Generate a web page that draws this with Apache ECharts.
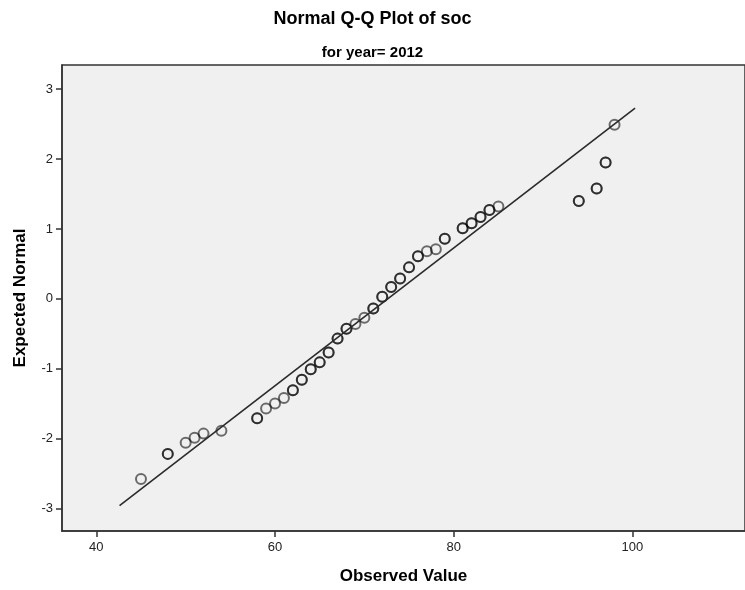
<!DOCTYPE html>
<html>
<head>
<meta charset="utf-8">
<script src="https://cdn.jsdelivr.net/npm/echarts@6/dist/echarts.min.js"></script>
<style>
html,body{margin:0;padding:0;background:#fff;}
#chart{width:745px;height:590px;}
</style>
</head>
<body>
<div id="chart"></div>
<script>
// Observed values (unique) and their expected normal quantiles
const observed = [45,48,50,51,52,54,58,59,60,61,62,63,64,65,66,67,68,69,70,71,72,73,74,75,76,77,78,79,81,82,83,84,85,94,96,97,98];
const expected = [-2.58,-2.22,-2.06,-1.99,-1.93,-1.89,-1.71,-1.57,-1.50,-1.42,-1.31,-1.16,-1.01,-0.91,-0.77,-0.57,-0.43,-0.36,-0.27,-0.14,0.03,0.17,0.29,0.45,0.61,0.68,0.71,0.86,1.01,1.08,1.17,1.27,1.32,1.40,1.58,1.95,2.49];
// number of cases sharing each observed value (ties drawn on top of each other)
const counts = [1,2,1,1,1,1,2,1,1,1,2,2,2,2,2,2,2,1,1,2,2,2,2,2,2,1,1,2,2,2,2,2,1,2,2,2,1];
// reference line end points
const lineObserved = [42.6, 100.3];
const lineExpected = [-2.96, 2.73];
const xTicks = [40, 60, 80, 100];
const yTicks = [-3, -2, -1, 0, 1, 2, 3];

const pts = [];
observed.forEach((v, i) => {
  for (let k = 0; k < counts[i]; k++) pts.push([v, expected[i]]);
});
const lineData = lineObserved.map((v, i) => [v, lineExpected[i]]);

const FONT = "'Liberation Sans', Arial, sans-serif";
const chart = echarts.init(document.getElementById('chart'), null, {renderer: 'canvas'});
chart.setOption({
  backgroundColor: '#ffffff',
  animation: false,
  title: [
    {text: 'Normal Q-Q Plot of soc', left: 'center', top: 5,
     textStyle: {fontFamily: FONT, fontSize: 18, fontWeight: 'bold', color: '#000'}},
    {text: 'for year= 2012', left: 'center', top: 40,
     textStyle: {fontFamily: FONT, fontSize: 15, fontWeight: 'bold', color: '#000'}}
  ],
  grid: {left: 62, top: 65, right: -3, bottom: 58, show: true,
         backgroundColor: '#f0f0f0', borderColor: '#333', borderWidth: 1.5},
  xAxis: {
    type: 'value', min: 36.16, max: 112.6,
    name: 'Observed Value', nameLocation: 'middle', nameGap: 37,
    nameTextStyle: {fontFamily: FONT, fontSize: 17, fontWeight: 'bold', color: '#000'},
    axisLine: {show: true, onZero: false, lineStyle: {color: '#333', width: 1.5}},
    axisTick: {show: true, customValues: xTicks, length: 6, lineStyle: {color: '#333', width: 1.5}},
    axisLabel: {customValues: xTicks, fontFamily: FONT, fontSize: 13, color: '#222', margin: 10},
    splitLine: {show: false}
  },
  yAxis: {
    type: 'value', min: -3.324, max: 3.347,
    name: 'Expected Normal', nameLocation: 'middle', nameGap: 33, nameRotate: 90,
    nameTextStyle: {fontFamily: FONT, fontSize: 17, fontWeight: 'bold', color: '#000'},
    axisLine: {show: true, onZero: false, lineStyle: {color: '#333', width: 1.5}},
    axisTick: {show: true, customValues: yTicks, length: 6, lineStyle: {color: '#333', width: 1.5}},
    axisLabel: {customValues: yTicks, fontFamily: FONT, fontSize: 13, color: '#222', margin: 9},
    splitLine: {show: false}
  },
  series: [
    {type: 'line', data: lineData, symbol: 'none', silent: true, z: 3,
     lineStyle: {color: '#2a2a2a', width: 1.6}},
    {type: 'scatter', data: pts, symbol: 'circle', symbolSize: 10, z: 2,
     itemStyle: {color: 'rgba(0,0,0,0)', borderColor: 'rgba(0,0,0,0.7)', borderWidth: 2}}
  ]
});
</script>
</body>
</html>
